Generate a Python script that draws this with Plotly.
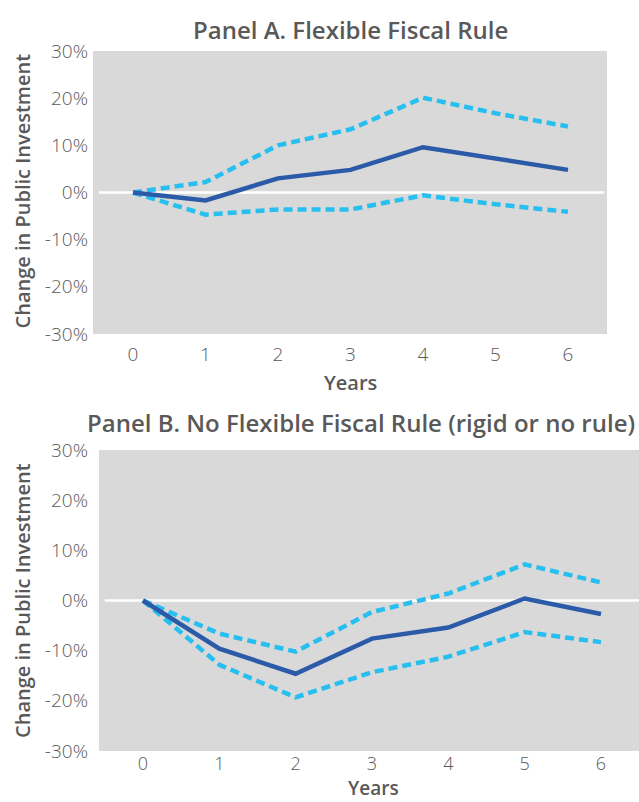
import plotly.graph_objects as go

# Years after the shock
years = [0, 1, 2, 3, 4, 5, 6]

# Panel A: flexible fiscal rule (percent change in public investment)
a_mean = [0.0, -1.7, 3.0, 4.8, 9.6, 7.2, 4.8]
a_upper = [0.0, 2.2, 10.0, 13.4, 20.1, 16.8, 14.0]
a_lower = [0.0, -4.7, -3.6, -3.6, -0.6, -2.5, -4.1]

# Panel B: no flexible fiscal rule (rigid or no rule)
b_mean = [0.0, -9.6, -14.6, -7.6, -5.4, 0.4, -2.7]
b_upper = [0.0, -6.6, -10.2, -2.3, 1.4, 7.2, 3.6]
b_lower = [0.0, -12.8, -19.3, -14.3, -11.2, -6.3, -8.3]

y_tickvals = [-30, -20, -10, 0, 10, 20, 30]
y_ticktext = ["-30%", "-20%", "-10%", "0%", "10%", "20%", "30%"]

panel_titles = ["Panel A. Flexible Fiscal Rule",
                "Panel B. No Flexible Fiscal Rule (rigid or no rule)"]
y_title = "Change in Public Investment"
x_title = "Years"

W, H = 639, 802
DARK = "#2b5aa8"
LIGHT = "#27bff0"
TEXT = "#595959"
BG = "#d9d9d9"
FONT = "Open Sans"


def px_x(p):
    return p / W


def px_y(p):
    return 1 - p / H


fig = go.Figure()

panels = [
    (a_mean, a_upper, a_lower, "x", "y"),
    (b_mean, b_upper, b_lower, "x2", "y2"),
]
for mean, upper, lower, xa, ya in panels:
    for band in (upper, lower):
        fig.add_trace(go.Scatter(x=years, y=band, mode="lines", xaxis=xa, yaxis=ya,
                                 line=dict(color=LIGHT, width=4.5, dash="9px,5px"),
                                 showlegend=False, hoverinfo="skip"))
    fig.add_trace(go.Scatter(x=years, y=mean, mode="lines", xaxis=xa, yaxis=ya,
                             line=dict(color=DARK, width=4.5),
                             showlegend=False, hoverinfo="skip"))

tickfont = dict(family=FONT, size=19, color=TEXT, weight=300)

common_x = dict(tickmode="array", tickvals=years, ticktext=[str(v) for v in years],
                showgrid=False, zeroline=False, showline=False, automargin=False,
                ticks="", fixedrange=True)
common_y = dict(tickmode="array", tickvals=y_tickvals, ticktext=y_ticktext,
                range=[-30, 30], showgrid=False, zeroline=False, showline=False,
                automargin=False, ticks="", tickfont=tickfont, fixedrange=True)

fig.update_layout(
    width=W, height=H,
    margin=dict(l=0, r=0, t=0, b=0, autoexpand=False),
    paper_bgcolor="white",
    plot_bgcolor=BG,
    xaxis=dict(domain=[px_x(93), px_x(607)], range=[-0.552, 6.538], anchor="y",
               ticklabelstandoff=7, tickfont=tickfont, **common_x),
    yaxis=dict(domain=[px_y(334), px_y(51)], anchor="x", ticklabelstandoff=4, **common_y),
    xaxis2=dict(domain=[px_x(99), 1.0], range=[-0.576, 6.498], anchor="y2",
                ticklabelstandoff=0, tickfont=dict(tickfont, size=18), **common_x),
    yaxis2=dict(domain=[px_y(751), px_y(450)], anchor="x2", ticklabelstandoff=10, **common_y),
)

# White zero reference lines
fig.add_shape(type="line", xref="x", yref="y", x0=-0.47, x1=6.5, y0=0, y1=0,
              line=dict(color="white", width=2.5), layer="below")
fig.add_shape(type="line", xref="x2", yref="y2", x0=-0.5, x1=6.498, y0=0, y1=0,
              line=dict(color="white", width=2.5), layer="below")

title_font = dict(family=FONT, size=24, color=TEXT, weight=600)
label_font = dict(family=FONT, size=20, color=TEXT, weight=600)

annotations = [
    dict(text=panel_titles[0], x=px_x(350), y=px_y(29), yanchor="middle", font=title_font),
    dict(text=panel_titles[1], x=px_x(361), y=px_y(422), yanchor="middle", font=title_font),
    dict(text=y_title, x=px_x(22), y=px_y(191.5), textangle=-90, yanchor="middle", font=label_font),
    dict(text=y_title, x=px_x(22), y=px_y(601), textangle=-90, yanchor="middle", font=label_font),
    dict(text=x_title, x=px_x(350), y=px_y(383), yanchor="middle", font=label_font),
    dict(text=x_title, x=px_x(373), y=0, yanchor="bottom", font=dict(label_font, size=19)),
]
for a in annotations:
    a.update(xref="paper", yref="paper", showarrow=False, xanchor="center", borderpad=0)

fig.update_layout(annotations=annotations)

fig.write_html("out.html")
